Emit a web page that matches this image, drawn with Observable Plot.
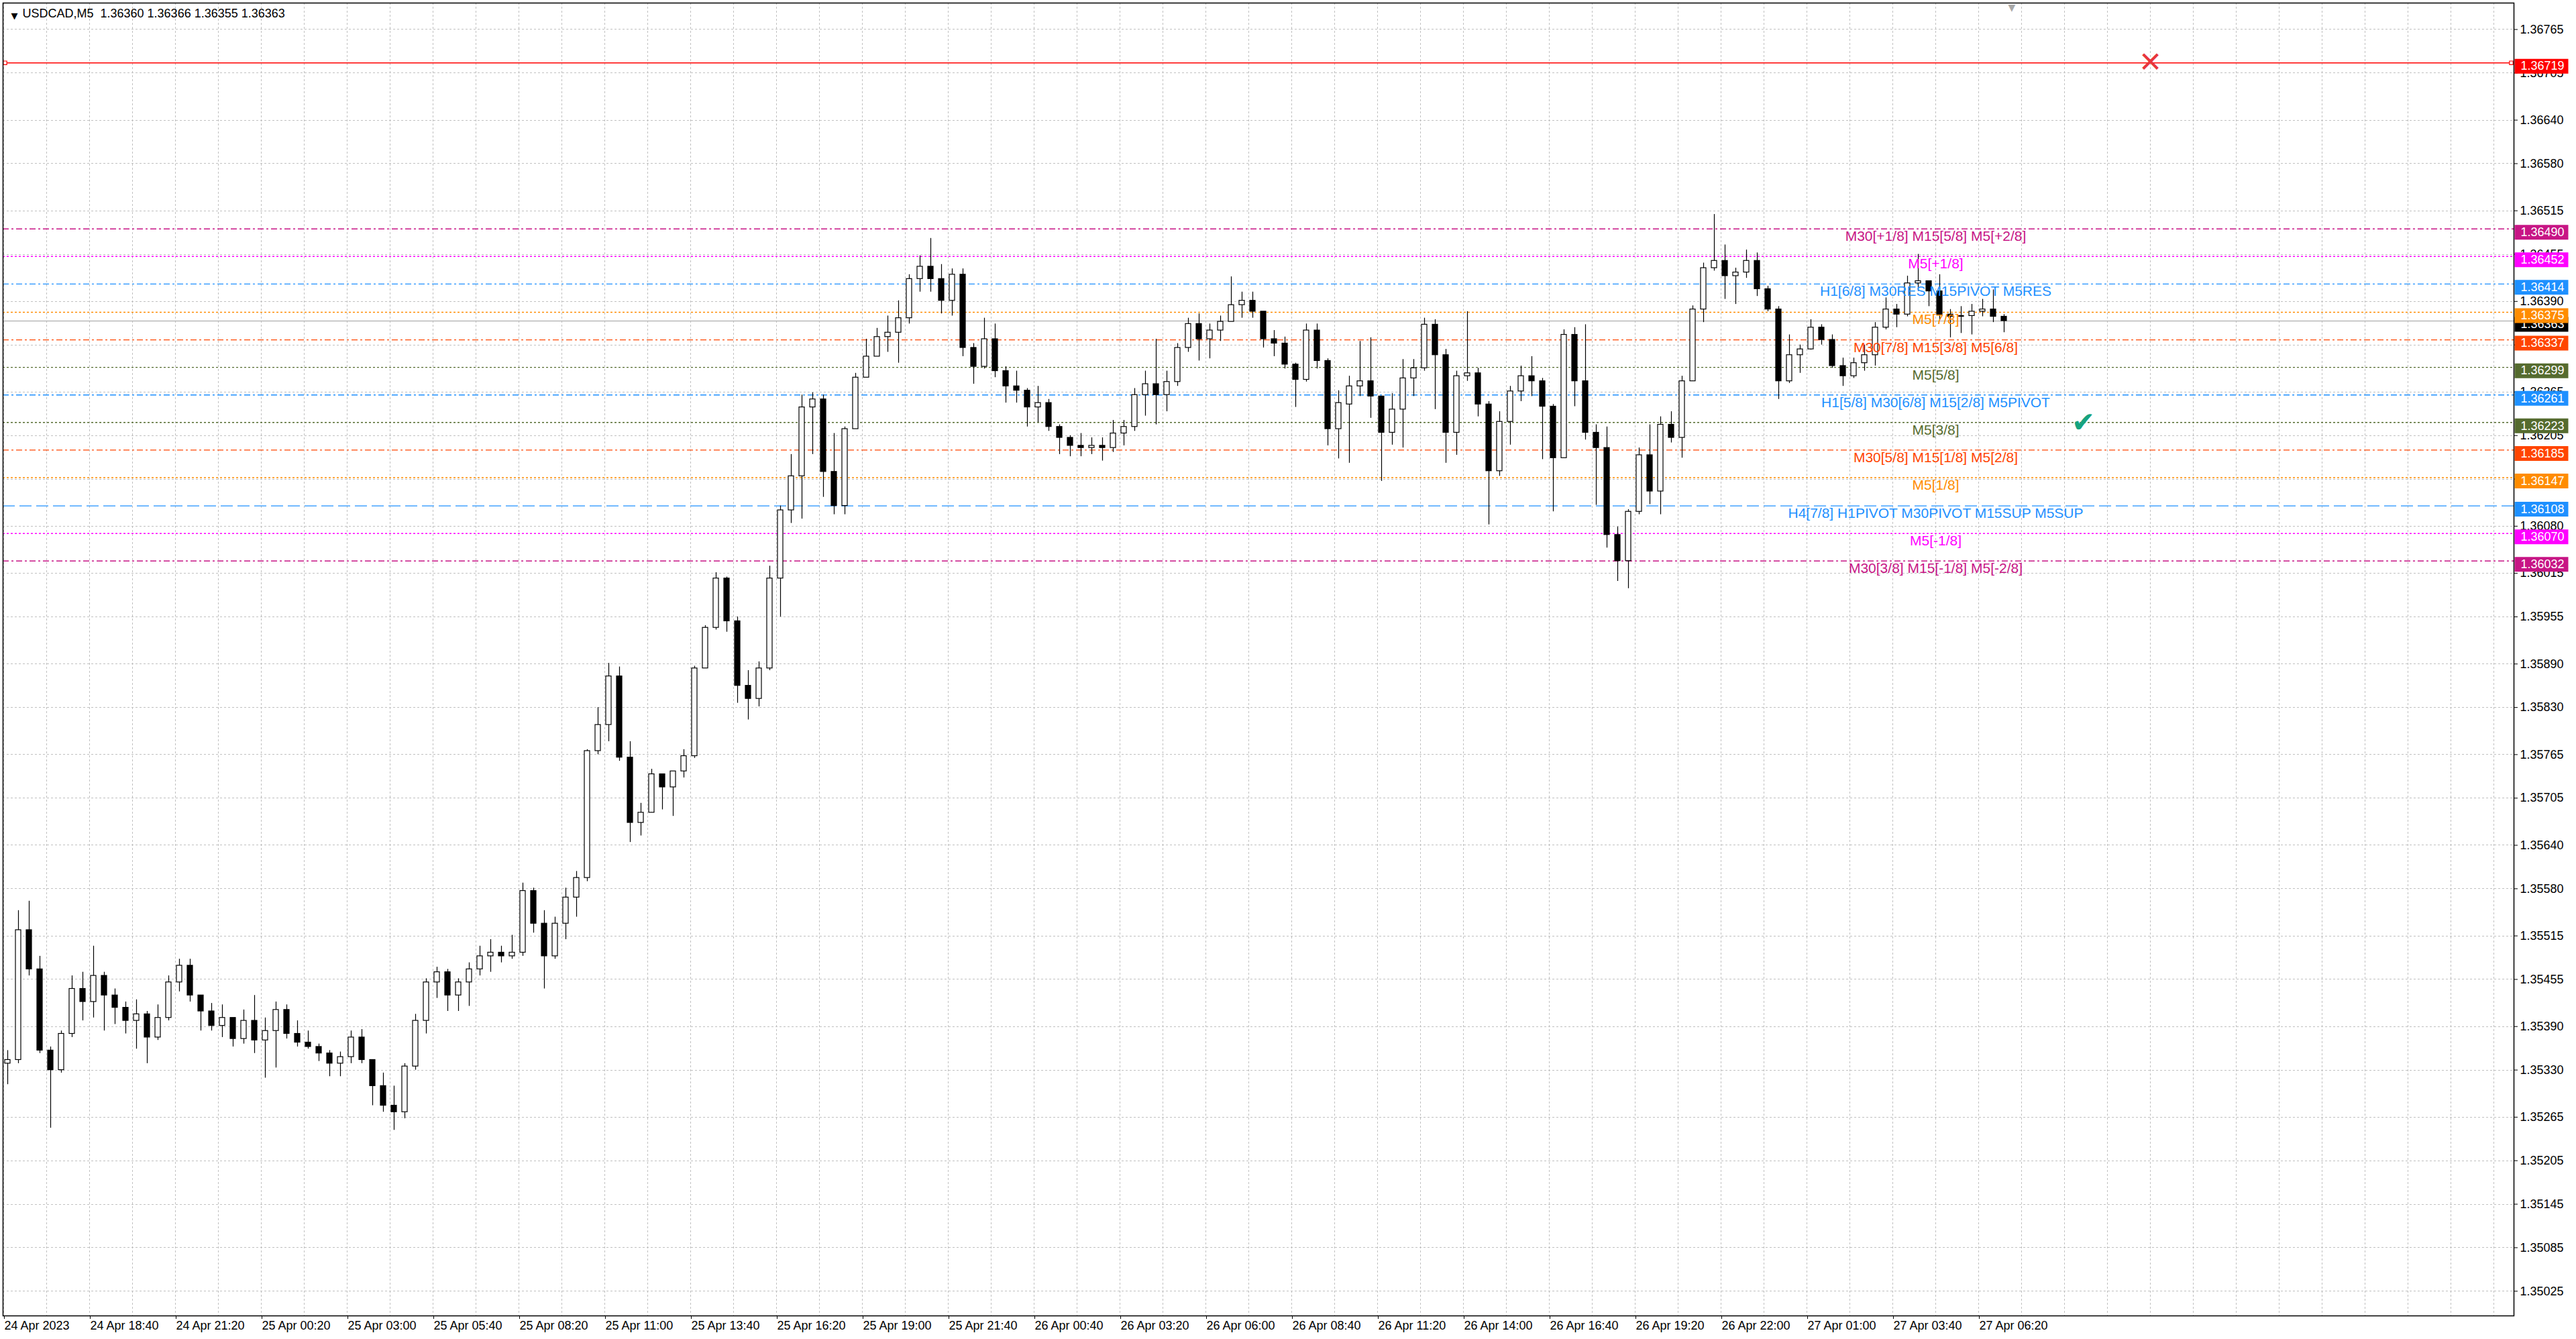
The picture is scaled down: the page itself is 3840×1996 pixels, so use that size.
<!DOCTYPE html>
<html><head><meta charset="utf-8">
<script src="https://cdn.jsdelivr.net/npm/d3@7"></script>
<script src="https://cdn.jsdelivr.net/npm/@observablehq/plot@0.6"></script>
<style>
html,body{margin:0;padding:0;background:#fff;overflow:hidden;}
svg{display:block;}
</style></head><body>
<script>
// ---------- data ----------
const titleText = "USDCAD,M5  1.36360 1.36366 1.36355 1.36363";
const barsPerCandle = 4;      // each drawn candle groups four M5 bars
const labelEvery = 32;        // bars between time labels
const gridEvery = 16;         // bars between vertical grid lines
const barCapacity = 935.5;    // bars that fit on the chart width

const open = [1.35339,1.35344,1.35523,1.35469,1.35357,1.35330,1.35380,1.35442,1.35424,1.35460,
1.35433,1.35416,1.35398,1.35407,1.35375,1.35402,1.35451,1.35474,1.35433,1.35411,
1.35391,1.35402,1.35373,1.35398,1.35371,1.35384,1.35413,1.35380,1.35368,1.35362,
1.35353,1.35339,1.35348,1.35375,1.35344,1.35308,1.35281,1.35272,1.35335,1.35398,
1.35451,1.35465,1.35433,1.35451,1.35469,1.35487,1.35492,1.35487,1.35492,1.35577,
1.35532,1.35487,1.35532,1.35568,1.35595,1.35770,1.35806,1.35873,1.35761,1.35671,
1.35685,1.35738,1.35720,1.35742,1.35763,1.35884,1.35940,1.36008,1.35949,1.35860,
1.35842,1.35884,1.36008,1.36102,1.36149,1.36244,1.36255,1.36155,1.36108,1.36214,
1.36285,1.36314,1.36341,1.36347,1.36367,1.36421,1.36438,1.36421,1.36391,1.36427,
1.36326,1.36300,1.36338,1.36294,1.36273,1.36267,1.36244,1.36250,1.36217,1.36202,
1.36191,1.36188,1.36191,1.36188,1.36208,1.36217,1.36261,1.36276,1.36261,1.36279,
1.36326,1.36359,1.36338,1.36350,1.36362,1.36385,1.36391,1.36376,1.36338,1.36332,
1.36303,1.36282,1.36350,1.36308,1.36214,1.36248,1.36273,1.36280,1.36259,1.36209,
1.36241,1.36284,1.36298,1.36358,1.36316,1.36209,1.36287,1.36291,1.36248,1.36156,
1.36224,1.36266,1.36287,1.36280,1.36245,1.36174,1.36344,1.36280,1.36209,1.36188,
1.36068,1.36032,1.36100,1.36178,1.36128,1.36220,1.36202,1.36280,1.36379,1.36436,
1.36446,1.36425,1.36430,1.36446,1.36407,1.36379,1.36280,1.36316,1.36324,1.36354,
1.36337,1.36301,1.36287,1.36305,1.36316,1.36354,1.36379,1.36372,1.36415,1.36418,
1.36404,1.36372,1.36369,1.36370,1.36376,1.36379,1.36369];

const high = [1.35357,1.35550,1.35563,1.35487,1.35362,1.35384,1.35460,1.35465,1.35501,1.35465,
1.35442,1.35424,1.35427,1.35411,1.35420,1.35460,1.35483,1.35483,1.35433,1.35422,
1.35420,1.35402,1.35413,1.35433,1.35402,1.35424,1.35420,1.35398,1.35384,1.35366,
1.35357,1.35355,1.35384,1.35386,1.35344,1.35326,1.35308,1.35339,1.35407,1.35456,
1.35472,1.35469,1.35456,1.35478,1.35501,1.35510,1.35501,1.35516,1.35588,1.35581,
1.35550,1.35541,1.35581,1.35604,1.35772,1.35830,1.35891,1.35886,1.35783,1.35698,
1.35745,1.35738,1.35742,1.35772,1.35887,1.35943,1.36016,1.36010,1.35955,1.35881,
1.35893,1.36025,1.36108,1.36179,1.36261,1.36264,1.36261,1.36208,1.36217,1.36291,
1.36338,1.36353,1.36370,1.36391,1.36427,1.36453,1.36477,1.36441,1.36435,1.36435,
1.36332,1.36367,1.36359,1.36300,1.36294,1.36270,1.36273,1.36255,1.36220,1.36205,
1.36208,1.36202,1.36202,1.36226,1.36226,1.36270,1.36294,1.36338,1.36294,1.36332,
1.36367,1.36373,1.36359,1.36370,1.36424,1.36403,1.36403,1.36376,1.36350,1.36341,
1.36305,1.36359,1.36359,1.36311,1.36267,1.36287,1.36335,1.36340,1.36259,1.36263,
1.36310,1.36310,1.36367,1.36365,1.36324,1.36294,1.36376,1.36298,1.36252,1.36238,
1.36273,1.36301,1.36314,1.36284,1.36248,1.36351,1.36354,1.36358,1.36220,1.36217,
1.36079,1.36103,1.36188,1.36220,1.36231,1.36238,1.36287,1.36384,1.36443,1.36510,
1.36468,1.36436,1.36461,1.36457,1.36411,1.36383,1.36344,1.36330,1.36365,1.36358,
1.36344,1.36312,1.36312,1.36330,1.36361,1.36395,1.36386,1.36425,1.36455,1.36418,
1.36427,1.36379,1.36383,1.36386,1.36393,1.36406,1.36372];

const low = [1.35310,1.35339,1.35460,1.35353,1.35250,1.35326,1.35375,1.35398,1.35402,1.35384,
1.35393,1.35380,1.35359,1.35339,1.35371,1.35398,1.35438,1.35424,1.35384,1.35384,
1.35375,1.35362,1.35366,1.35353,1.35319,1.35333,1.35373,1.35362,1.35359,1.35342,
1.35321,1.35321,1.35339,1.35339,1.35281,1.35272,1.35247,1.35263,1.35330,1.35380,
1.35429,1.35411,1.35411,1.35418,1.35460,1.35465,1.35478,1.35483,1.35487,1.35519,
1.35442,1.35483,1.35510,1.35541,1.35590,1.35765,1.35783,1.35756,1.35644,1.35653,
1.35685,1.35689,1.35680,1.35733,1.35760,1.35884,1.35937,1.35934,1.35836,1.35813,
1.35831,1.35881,1.35955,1.36084,1.36090,1.36179,1.36120,1.36096,1.36096,1.36214,
1.36285,1.36314,1.36320,1.36305,1.36359,1.36403,1.36403,1.36373,1.36370,1.36314,
1.36276,1.36297,1.36285,1.36250,1.36250,1.36217,1.36223,1.36211,1.36179,1.36176,
1.36176,1.36179,1.36170,1.36182,1.36191,1.36211,1.36232,1.36220,1.36238,1.36273,
1.36320,1.36308,1.36311,1.36335,1.36362,1.36367,1.36367,1.36326,1.36314,1.36297,
1.36244,1.36279,1.36297,1.36191,1.36173,1.36167,1.36259,1.36229,1.36142,1.36192,
1.36188,1.36259,1.36294,1.36241,1.36167,1.36178,1.36280,1.36231,1.36082,1.36149,
1.36192,1.36252,1.36259,1.36172,1.36100,1.36174,1.36245,1.36199,1.36109,1.36050,
1.36004,1.35994,1.36096,1.36110,1.36096,1.36195,1.36174,1.36280,1.36361,1.36432,
1.36393,1.36386,1.36422,1.36397,1.36376,1.36255,1.36277,1.36291,1.36323,1.36330,
1.36298,1.36273,1.36284,1.36294,1.36301,1.36351,1.36354,1.36369,1.36404,1.36383,
1.36365,1.36340,1.36346,1.36344,1.36369,1.36361,1.36347];

const close = [1.35344,1.35523,1.35469,1.35357,1.35330,1.35380,1.35442,1.35424,1.35460,1.35433,
1.35416,1.35398,1.35407,1.35375,1.35402,1.35451,1.35474,1.35433,1.35411,1.35391,
1.35402,1.35373,1.35398,1.35371,1.35384,1.35413,1.35380,1.35368,1.35362,1.35353,
1.35339,1.35348,1.35375,1.35344,1.35308,1.35281,1.35272,1.35335,1.35398,1.35451,
1.35465,1.35433,1.35451,1.35469,1.35487,1.35492,1.35487,1.35492,1.35577,1.35532,
1.35487,1.35532,1.35568,1.35595,1.35770,1.35806,1.35873,1.35761,1.35671,1.35685,
1.35738,1.35720,1.35742,1.35763,1.35884,1.35940,1.36008,1.35949,1.35860,1.35842,
1.35884,1.36008,1.36102,1.36149,1.36244,1.36255,1.36155,1.36108,1.36214,1.36285,
1.36314,1.36341,1.36347,1.36367,1.36421,1.36438,1.36421,1.36391,1.36427,1.36326,
1.36300,1.36338,1.36294,1.36273,1.36267,1.36244,1.36250,1.36217,1.36202,1.36191,
1.36188,1.36191,1.36188,1.36208,1.36217,1.36261,1.36276,1.36261,1.36279,1.36326,
1.36359,1.36338,1.36350,1.36362,1.36385,1.36391,1.36376,1.36338,1.36332,1.36303,
1.36282,1.36350,1.36308,1.36214,1.36250,1.36273,1.36280,1.36259,1.36209,1.36241,
1.36284,1.36298,1.36358,1.36316,1.36209,1.36287,1.36291,1.36248,1.36156,1.36224,
1.36266,1.36287,1.36280,1.36245,1.36174,1.36344,1.36280,1.36209,1.36188,1.36068,
1.36032,1.36100,1.36178,1.36128,1.36220,1.36202,1.36280,1.36379,1.36436,1.36446,
1.36425,1.36430,1.36446,1.36407,1.36379,1.36280,1.36316,1.36324,1.36354,1.36337,
1.36301,1.36287,1.36305,1.36316,1.36354,1.36379,1.36372,1.36415,1.36418,1.36404,
1.36372,1.36369,1.36370,1.36376,1.36379,1.36369,1.36363];

const timeLabels = ["24 Apr 2023","24 Apr 18:40","24 Apr 21:20","25 Apr 00:20","25 Apr 03:00","25 Apr 05:40",
"25 Apr 08:20","25 Apr 11:00","25 Apr 13:40","25 Apr 16:20","25 Apr 19:00","25 Apr 21:40",
"26 Apr 00:40","26 Apr 03:20","26 Apr 06:00","26 Apr 08:40","26 Apr 11:20","26 Apr 14:00",
"26 Apr 16:40","26 Apr 19:20","26 Apr 22:00","27 Apr 01:00","27 Apr 03:40","27 Apr 06:20"];

const yTickValues = [1.36765,1.36705,1.36640,1.36580,1.36515,1.36455,1.36390,1.36330,1.36265,1.36205,
1.36145,1.36080,1.36015,1.35955,1.35890,1.35830,1.35765,1.35705,1.35640,1.35580,1.35515,1.35455,
1.35390,1.35330,1.35265,1.35205,1.35145,1.35085,1.35025];
const yDomain = [1.34991, 1.368015];

const levelPrices = [1.36719,1.36490,1.36452,1.36414,1.36375,1.36337,1.36299,1.36261,1.36223,1.36185,1.36147,1.36108,1.36070,1.36032];
const levelLabels = ["","M30[+1/8] M15[5/8] M5[+2/8]","M5[+1/8]","H1[6/8] M30RES M15PIVOT M5RES","M5[7/8]",
"M30[7/8] M15[3/8] M5[6/8]","M5[5/8]","H1[5/8] M30[6/8] M15[2/8] M5PIVOT","M5[3/8]",
"M30[5/8] M15[1/8] M5[2/8]","M5[1/8]","H4[7/8] H1PIVOT M30PIVOT M15SUP M5SUP","M5[-1/8]","M30[3/8] M15[-1/8] M5[-2/8]"];
const currentPrice = 1.36363;

const signalBars = [775, 800];
const signalPrices = [1.36222, 1.36719];
const signalGlyphs = ["\u2714", "\u2715"];

// ---------- styles ----------
const levelColors = ["#FF0000","#C71585","#FF00FF","#1E90FF","#FF8C00","#FF4500","#556B2F","#1E90FF","#556B2F","#FF4500","#FF8C00","#1E90FF","#FF00FF","#C71585"];
const levelLineKinds = ["solid","dashdot","dot","dashdot","dot","dashdot","dot","dashdot","dot","dashdot","dot","dash","dot","dashdot"];
const dashFor = {solid: null, dashdot: "9,4,3,4", dot: "3,3", dash: "18,7"};
const signalColors = ["#16a37f", "#e8363c"];
const FONT = "'Liberation Sans', Arial, Helvetica, sans-serif";

// ---------- build ----------
const candles = open.map((o, k) => ({bar: k * barsPerCandle, open: o, high: high[k], low: low[k], close: close[k]}));
const labelBars = timeLabels.map((_, k) => k * labelEvery);
const gridBars = d3.range(0, barCapacity, gridEvery);

const boxSymbol = {draw(ctx) { ctx.moveTo(-40, -11); ctx.lineTo(40, -11); ctx.lineTo(40, 11); ctx.lineTo(-40, 11); ctx.closePath(); }};

const marks = [
  Plot.gridY(yTickValues, {stroke: "#c0c0c0", strokeOpacity: 1, strokeDasharray: "3,3", shapeRendering: "crispEdges"}),
  Plot.gridX(gridBars, {stroke: "#c0c0c0", strokeOpacity: 1, strokeDasharray: "3,3", shapeRendering: "crispEdges"}),
  Plot.ruleY([currentPrice], {stroke: "#b8b8b8", strokeWidth: 1.3})
];
levelPrices.forEach((p, k) => {
  marks.push(Plot.ruleY([p], {stroke: levelColors[k], strokeWidth: 1.4, strokeDasharray: dashFor[levelLineKinds[k]]}));
});
marks.push(
  Plot.ruleX(candles, {x: d => d.bar + 1.5, y1: "low", y2: "high", stroke: "black", strokeWidth: 1.2}),
  Plot.rect(candles.filter(d => d.close >= d.open), {x1: d => d.bar + 0.5, x2: d => d.bar + 2.5, y1: "open", y2: "close", fill: "white", stroke: "black", strokeWidth: 1.2}),
  Plot.rect(candles.filter(d => d.close < d.open), {x1: d => d.bar + 0.5, x2: d => d.bar + 2.5, y1: "open", y2: "close", fill: "black", stroke: "black", strokeWidth: 1.2})
);
levelPrices.forEach((p, k) => {
  if (levelLabels[k]) marks.push(Plot.text([p], {y: d => d, text: () => levelLabels[k], frameAnchor: "left", dx: 2881, dy: 3, lineAnchor: "top", textAnchor: "middle", fill: levelColors[k], fontSize: 21, fontFamily: FONT}));
});
signalBars.forEach((b, k) => {
  marks.push(Plot.text([b], {x: d => d, y: () => signalPrices[k], text: () => signalGlyphs[k], fill: signalColors[k], fontSize: 42, fontWeight: "bold", fontFamily: "'DejaVu Sans', sans-serif"}));
});
marks.push(
  Plot.dot([levelPrices[0]], {y: d => d, frameAnchor: "left", dx: 3, symbol: "square", r: 3, stroke: "#FF0000", fill: "white", strokeWidth: 1.2}),
  Plot.dot([levelPrices[0]], {y: d => d, frameAnchor: "right", dx: -4, symbol: "square", r: 3, stroke: "#FF0000", fill: "white", strokeWidth: 1.2}),
  Plot.frame({stroke: "black", strokeWidth: 1.5}),
  Plot.axisY(yTickValues, {anchor: "right", label: null, tickSize: 5, tickPadding: 4, tickFormat: d => d.toFixed(5), fontSize: 18, fontFamily: FONT, stroke: "black", fill: "black"}),
  Plot.axisX(labelBars, {anchor: "bottom", label: null, tickSize: 5, tickPadding: 3, textAnchor: "start", dx: 1, tickFormat: d => timeLabels[Math.round(d / labelEvery)], fontSize: 18, fontFamily: FONT, stroke: "black", fill: "black"}),
  Plot.dot([currentPrice], {y: d => d, frameAnchor: "right", dx: 41, dy: 5, symbol: boxSymbol, fill: "black", stroke: "none"}),
  Plot.text([currentPrice], {y: d => d, text: d => d.toFixed(5), frameAnchor: "right", dx: 10, dy: 5, textAnchor: "start", fill: "white", fontSize: 18, fontFamily: FONT})
);
levelPrices.forEach((p, k) => {
  marks.push(
    Plot.dot([p], {y: d => d, frameAnchor: "right", dx: 41, dy: 5, symbol: boxSymbol, fill: levelColors[k], stroke: "none"}),
    Plot.text([p], {y: d => d, text: d => d.toFixed(5), frameAnchor: "right", dx: 10, dy: 5, textAnchor: "start", fill: "white", fontSize: 18, fontFamily: FONT})
  );
});
marks.push(
  Plot.text(["\u25BC"], {frameAnchor: "top-left", dx: 12, dy: 14, fontSize: 13, fill: "black", fontFamily: "'DejaVu Sans', sans-serif"}),
  Plot.text([titleText], {frameAnchor: "top-left", dx: 29, dy: 15.5, textAnchor: "start", lineAnchor: "middle", fontSize: 18, fill: "black", fontFamily: FONT}),
  Plot.text(["\u25BC"], {frameAnchor: "top-left", dx: 2989, dy: 2, fontSize: 14, fill: "#a8a8a8", fontFamily: "'DejaVu Sans', sans-serif"})
);

const chart = Plot.plot({
  width: 3840, height: 1996,
  marginTop: 4, marginRight: 93, marginBottom: 35, marginLeft: 4,
  x: {domain: [-0.25, barCapacity]},
  y: {domain: yDomain},
  style: {fontFamily: FONT, fontSize: "18px", background: "white", color: "black"},
  marks
});
document.body.appendChild(chart);
</script>
</body></html>
